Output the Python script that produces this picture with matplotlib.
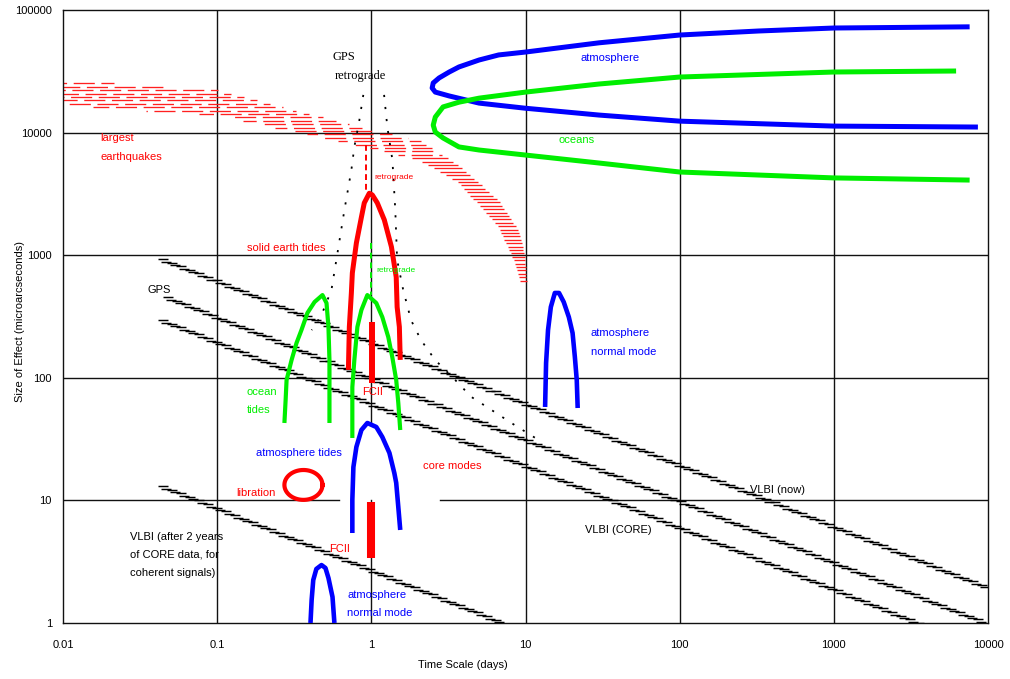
import numpy as np
import matplotlib
matplotlib.use('Agg')
import matplotlib.pyplot as plt
from matplotlib.collections import LineCollection

plt.rcParams['font.family'] = ['Liberation Sans', 'DejaVu Sans']

# ---------------- data ----------------
x_ticks = [0.01, 0.1, 1, 10, 100, 1000, 10000]
x_tick_labels = ['0.01', '0.1', '1', '10', '100', '1000', '10000']
y_ticks = [1, 10, 100, 1000, 10000, 100000]
y_tick_labels = ['1', '10', '100', '1000', '10000', '100000']

# largest earthquakes band (upper / lower edge)
quake_upper_x = [0.0096, 0.1, 1.0, 2.05, 3.7, 6.7, 9.0, 9.9, 10.2]
quake_upper_y = [26900, 22300, 10500, 8700, 5400, 2800, 1600, 1000, 590]
quake_lower_x = [0.0096, 0.1, 1.0, 2.05, 3.7, 6.7, 8.4, 9.35]
quake_lower_y = [16800, 13900, 7450, 6000, 3900, 1700, 910, 590]

# atmosphere (blue sideways curve)
atm_x = [7600, 1000, 324, 100, 30, 10, 6.7, 5.0, 3.7, 3.2, 2.75, 2.52, 2.48, 2.6, 3.2, 5.0,
         10, 30, 100, 1000, 8600]
atm_y = [72900, 71300, 67400, 62500, 54000, 45400, 43000, 39100, 34300, 31200, 27900, 25400,
         23100, 21400, 19900, 17400, 15800, 13900, 12400, 11300, 11100]

# oceans (green sideways curve)
ocn_x = [6210, 1000, 100, 29.9, 10, 5.0, 3.7, 2.92, 2.6, 2.52, 2.6, 2.92, 3.7, 5.0, 10, 29.9,
         100, 1000, 7600]
ocn_y = [31800, 31200, 28400, 24900, 21400, 19100, 17700, 16200, 13400, 11500, 10100, 9040,
         7640, 7210, 6560, 5650, 4770, 4270, 4100]

# GPS retrograde (dotted)
gpsr_left_x = [0.887, 0.836, 0.776, 0.742, 0.669, 0.603, 0.551, 0.475, 0.41]
gpsr_left_y = [20300, 12600, 7650, 4950, 2340, 1040, 520, 325, 245]
gpsr_right_x = [1.21, 1.27, 1.37, 1.43, 1.47, 1.61, 1.81, 2.1, 2.59, 3.5, 4.44, 5.97, 8.05, 12.2]
gpsr_right_y = [20300, 11100, 5970, 2340, 915, 520, 295, 203, 140, 96, 70, 55, 43, 31]

# solid earth tides (red arc)
set_x = [0.71, 0.72, 0.742, 0.753, 0.80, 0.862, 0.90, 0.97, 1.015, 1.093, 1.214, 1.35, 1.45,
         1.47, 1.52, 1.54]
set_y = [116, 260, 490, 716, 1260, 2040, 2670, 3200, 3100, 2670, 1940, 1170, 663, 378, 260, 140]
set_retro_x = [0.93, 0.93]
set_retro_y = [7900, 3200]

# ocean tides (green arcs)
ot1_x = [0.273, 0.278, 0.282, 0.304, 0.327, 0.352, 0.385, 0.428, 0.482, 0.512, 0.527, 0.535, 0.535]
ot1_y = [42.8, 65.9, 95.9, 140, 192, 245, 338, 415, 473, 407, 260, 140, 42.8]
ot2_x = [0.753, 0.753, 0.753, 0.776, 0.812, 0.862, 0.942, 1.077, 1.178, 1.288, 1.367, 1.45,
         1.496, 1.54]
ot2_y = [32.3, 51.6, 84, 140, 260, 357, 473, 407, 313, 215, 148, 96, 62.3, 37.5]
ot_retro_x = [1.0, 1.0]
ot_retro_y = [1260, 473]

# FCII bars
fcii_x = [1.015, 1.0]
fcii_top = [285, 9.7]
fcii_bottom = [91, 3.39]

# atmosphere tides (blue arc)
at_x = [0.753, 0.753, 0.765, 0.80, 0.862, 0.942, 1.077, 1.178, 1.31, 1.41, 1.45, 1.496, 1.54]
at_y = [5.42, 10.1, 18.7, 27.3, 37.5, 42.8, 39.7, 32.9, 24.4, 16.7, 13.9, 8.83, 5.74]

# atmosphere normal modes (blue arcs)
anm1_x = [13.4, 13.6, 14.0, 14.6, 15.5, 16.5, 17.7, 19.1, 20.2, 20.9, 21.5, 21.8]
anm1_y = [57.8, 132, 245, 378, 492, 492, 415, 313, 232, 148, 96, 56.7]
anm2_x = [0.403, 0.41, 0.42, 0.44, 0.475, 0.504, 0.527, 0.56, 0.576]
anm2_y = [1.0, 1.54, 2.24, 2.76, 2.97, 2.81, 2.33, 1.63, 1.0]

# libration (red ellipse): x range and y range
libration_x = [0.273, 0.482]
libration_y = [10.1, 17.7]

# sensitivity lines (GPS / VLBI): start and end points
diag_x0 = [0.0412, 0.0444, 0.0412, 0.0412]
diag_y0 = [931, 456, 296, 13.1]
diag_x1 = [9140, 8110, 3320, 6.74]
diag_y1 = [1.97, 1.06, 1.0, 1.0]

# ---------------- figure ----------------
W, H = 1010, 679
fig = plt.figure(figsize=(W / 100, H / 100), dpi=100)
ax = fig.add_axes([63 / W, 1 - 623 / H, (988 - 63) / W, (623 - 10) / H])
ax.set_xscale('log')
ax.set_yscale('log')
ax.set_xlim(0.01, 10000)
ax.set_ylim(1, 100000)
ax.set_xticks(x_ticks)
ax.set_xticklabels(x_tick_labels)
ax.set_yticks(y_ticks)
ax.set_yticklabels(y_tick_labels)
ax.minorticks_off()
ax.tick_params(axis='x', length=0, pad=12, labelsize=8)
ax.tick_params(axis='y', length=0, pad=8, labelsize=8)
for s in ax.spines.values():
    s.set_linewidth(1.0)
    s.set_color('#111111')

ppd_x = ax.bbox.width / 6.0   # px per decade
ppd_y = ax.bbox.height / 5.0

# grid lines
gk = dict(color='#111111', lw=1.0, zorder=1)
for xv in x_ticks[1:-1]:
    if xv == 1:
        ax.plot([1, 1], [1, 10], **gk)
        ax.plot([1, 1], [43, 100000], **gk)
    else:
        ax.axvline(xv, **gk)
for yv in y_ticks[1:-1]:
    if yv == 10:
        ax.plot([0.01, 0.62], [10, 10], **gk)
        ax.plot([2.8, 10000], [10, 10], **gk)
    else:
        ax.axhline(yv, **gk)

# hatched sensitivity lines
def hatched(x0, y0, x1, y1):
    lx0, ly0, lx1, ly1 = np.log10([x0, y0, x1, y1])
    slope = (ly1 - ly0) / (lx1 - lx0)
    step = 9.0 / ppd_x
    length = 10.0 / ppd_x
    shift = 3.0 / ppd_x
    dy = 2.6 / ppd_y
    segs = []
    for lx in np.arange(lx0, lx1, step):
        ly = ly0 + slope * (lx - lx0)
        segs.append([(10 ** lx, 10 ** ly), (10 ** (lx + length), 10 ** ly)])
        segs.append([(10 ** (lx + shift), 10 ** (ly - dy)),
                     (10 ** (lx + shift + length), 10 ** (ly - dy))])
    ax.add_collection(LineCollection(segs, colors='black', linewidths=1.05, zorder=3))

for a, b, c, d in zip(diag_x0, diag_y0, diag_x1, diag_y1):
    hatched(a, b, c, d)

# earthquake band drawn as horizontal red strokes
lux, luy = np.log10(quake_upper_x), np.log10(quake_upper_y)
llx, lly = np.log10(quake_lower_x), np.log10(quake_lower_y)
row_dy = 3.4 / ppd_y
for i, ly in enumerate(np.arange(luy.max(), lly.min(), -row_dy)):
    xu = np.interp(ly, luy[::-1], lux[::-1])
    if ly >= lly.max():
        xl = llx[0]
    else:
        xl = np.interp(ly, lly[::-1], llx[::-1])
    w = (xu - xl) * ppd_x
    if w <= 0.5:
        continue
    if w > 40:
        ls = (((i * 11) % 21), (16, 5))
    else:
        ls = '-'
    ax.plot([10 ** xl, 10 ** xu], [10 ** ly, 10 ** ly], color='#ff2020', lw=0.95,
            linestyle=ls, zorder=2, solid_capstyle='butt')

blue, green, red = '#0000ff', '#00ee00', '#ff0000'
rk = dict(solid_joinstyle='round', solid_capstyle='butt')

ax.plot(atm_x, atm_y, color=blue, lw=3.6, zorder=4, **rk)
ax.plot(ocn_x, ocn_y, color=green, lw=3.6, zorder=4, **rk)

dot = (0, (1.2, 5.5))
ax.plot(gpsr_left_x, gpsr_left_y, color='black', lw=1.3, linestyle=dot, zorder=3)
ax.plot(gpsr_right_x, gpsr_right_y, color='black', lw=1.3, linestyle=dot, zorder=3)

ax.plot(set_x, set_y, color=red, lw=3.6, zorder=5, **rk)
ax.plot(set_retro_x, set_retro_y, color=red, lw=1.4, linestyle=(0, (3, 2)), zorder=5)
ax.plot(ot1_x, ot1_y, color=green, lw=3.0, zorder=5, **rk)
ax.plot(ot2_x, ot2_y, color=green, lw=3.0, zorder=5, **rk)
ax.plot(ot_retro_x, ot_retro_y, color=green, lw=1.4, linestyle=(0, (3, 2)), zorder=5)
ax.plot([fcii_x[0]] * 2, [fcii_bottom[0], fcii_top[0]], color=red, lw=4.3,
        solid_capstyle='butt', zorder=6)
ax.plot([fcii_x[1]] * 2, [fcii_bottom[1], fcii_top[1]], color=red, lw=5.8,
        solid_capstyle='butt', zorder=6)
ax.plot(at_x, at_y, color=blue, lw=3.3, zorder=5, **rk)
ax.plot(anm1_x, anm1_y, color=blue, lw=3.3, zorder=5, **rk)
ax.plot(anm2_x, anm2_y, color=blue, lw=3.3, zorder=5, **rk)

# libration ellipse (in log space)
lxc = np.log10(libration_x).mean()
lyc = np.log10(libration_y).mean()
rx = np.diff(np.log10(libration_x))[0] / 2
ry = np.diff(np.log10(libration_y))[0] / 2
t = np.linspace(0, 2 * np.pi, 80)
ax.plot(10 ** (lxc + rx * np.cos(t)), 10 ** (lyc + ry * np.sin(t)), color=red, lw=3.0, zorder=5)

# ---------------- labels ----------------
fs = 8
def lab(x, y, s, c='black', size=fs, ha='left', **kw):
    ax.text(x, y, s, color=c, fontsize=size, ha=ha, va='center', zorder=7, **kw)

serif = ['Liberation Serif', 'DejaVu Serif']
lab(0.56, 41400, 'GPS', size=9, family=serif)
lab(0.576, 28900, 'retrograde', size=9, family=serif)
lab(0.0174, 9040, 'largest', red)
lab(0.0174, 6320, 'earthquakes', red)
lab(35.2, 40600, 'atmosphere', blue, ha='center')
lab(21.5, 8700, 'oceans', green, ha='center')
lab(1.045, 4340, 'retrograde', red, size=6)
lab(0.157, 1145, 'solid earth tides', red)
lab(1.077, 757, 'retrograde', green, size=6)
lab(0.0355, 520, 'GPS')
lab(0.155, 76.6, 'ocean', green)
lab(0.155, 54.6, 'tides', green)
lab(1.015, 76, 'FCII', red, ha='center')
lab(26.5, 232, 'atmosphere', blue)
lab(26.5, 162, 'normal mode', blue)
lab(0.1775, 24.4, 'atmosphere tides', blue)
lab(2.17, 19.1, 'core modes', red)
lab(0.132, 11.5, 'libration', red)
lab(288, 12.2, 'VLBI (now)')
lab(24.3, 5.74, 'VLBI (CORE)')
lab(0.0272, 5.03, 'VLBI (after 2 years')
lab(0.0272, 3.59, 'of CORE data, for')
lab(0.0272, 2.56, 'coherent signals)')
lab(0.535, 4.01, 'FCII', red)
lab(0.70, 1.69, 'atmosphere', blue)
lab(0.70, 1.21, 'normal mode', blue)

fig.text(463 / W, 1 - 665 / H, 'Time Scale (days)', ha='center', va='center', fontsize=8)
fig.text(20 / W, 1 - 322 / H, 'Size of Effect (microarcseconds)', ha='center', va='center',
         rotation=90, fontsize=8)

fig.savefig('out.png', dpi=100)
